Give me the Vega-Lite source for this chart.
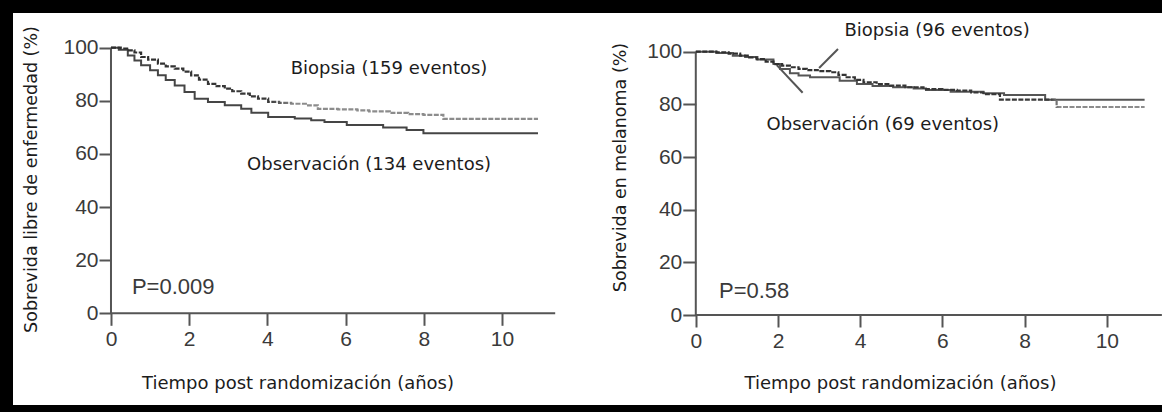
{
  "$schema": "https://vega.github.io/schema/vega-lite/v6.json",
  "background": "black",
  "padding": {"left": 13, "top": 13, "right": 0, "bottom": 7},
  "config": {
    "view": {"stroke": null, "fill": "white"},
    "concat": {"spacing": 0}
  },
  "datasets": {
    "izq_curvas": [
      {"grupo": "Biopsia", "tiempo": 0, "sobrevida": 100},
      {"grupo": "Biopsia", "tiempo": 0.25, "sobrevida": 99.7},
      {"grupo": "Biopsia", "tiempo": 0.45, "sobrevida": 99.0},
      {"grupo": "Biopsia", "tiempo": 0.6, "sobrevida": 98.2},
      {"grupo": "Biopsia", "tiempo": 0.77, "sobrevida": 96.5},
      {"grupo": "Biopsia", "tiempo": 0.95, "sobrevida": 95.5},
      {"grupo": "Biopsia", "tiempo": 1.2, "sobrevida": 94.0},
      {"grupo": "Biopsia", "tiempo": 1.4, "sobrevida": 93.0},
      {"grupo": "Biopsia", "tiempo": 1.63, "sobrevida": 92.1},
      {"grupo": "Biopsia", "tiempo": 1.85, "sobrevida": 91.0},
      {"grupo": "Biopsia", "tiempo": 2.05, "sobrevida": 89.6},
      {"grupo": "Biopsia", "tiempo": 2.25, "sobrevida": 88.0},
      {"grupo": "Biopsia", "tiempo": 2.48, "sobrevida": 86.4},
      {"grupo": "Biopsia", "tiempo": 2.7, "sobrevida": 85.5},
      {"grupo": "Biopsia", "tiempo": 2.91, "sobrevida": 84.6},
      {"grupo": "Biopsia", "tiempo": 3.1, "sobrevida": 83.6},
      {"grupo": "Biopsia", "tiempo": 3.33, "sobrevida": 82.7},
      {"grupo": "Biopsia", "tiempo": 3.55, "sobrevida": 81.7},
      {"grupo": "Biopsia", "tiempo": 3.76, "sobrevida": 80.8},
      {"grupo": "Biopsia", "tiempo": 4.02, "sobrevida": 79.6},
      {"grupo": "Biopsia", "tiempo": 4.3, "sobrevida": 79.2},
      {"grupo": "Biopsia", "tiempo": 4.61, "sobrevida": 78.9},
      {"grupo": "Biopsia", "tiempo": 5.04, "sobrevida": 78.3},
      {"grupo": "Biopsia", "tiempo": 5.29, "sobrevida": 77.0},
      {"grupo": "Biopsia", "tiempo": 5.8, "sobrevida": 76.8},
      {"grupo": "Biopsia", "tiempo": 6.3, "sobrevida": 76.4},
      {"grupo": "Biopsia", "tiempo": 6.6, "sobrevida": 76.0},
      {"grupo": "Biopsia", "tiempo": 7.13, "sobrevida": 75.5},
      {"grupo": "Biopsia", "tiempo": 7.6, "sobrevida": 75.0},
      {"grupo": "Biopsia", "tiempo": 7.99, "sobrevida": 74.7},
      {"grupo": "Biopsia", "tiempo": 8.5, "sobrevida": 73.2},
      {"grupo": "Biopsia", "tiempo": 10.92, "sobrevida": 73.2},
      {"grupo": "Observación", "tiempo": 0, "sobrevida": 100},
      {"grupo": "Observación", "tiempo": 0.2, "sobrevida": 99.2},
      {"grupo": "Observación", "tiempo": 0.43, "sobrevida": 97.1},
      {"grupo": "Observación", "tiempo": 0.6, "sobrevida": 95.2},
      {"grupo": "Observación", "tiempo": 0.77, "sobrevida": 93.4},
      {"grupo": "Observación", "tiempo": 1.0, "sobrevida": 91.5},
      {"grupo": "Observación", "tiempo": 1.2, "sobrevida": 89.6},
      {"grupo": "Observación", "tiempo": 1.4, "sobrevida": 87.8},
      {"grupo": "Observación", "tiempo": 1.63, "sobrevida": 85.8},
      {"grupo": "Observación", "tiempo": 1.88, "sobrevida": 83.3},
      {"grupo": "Observación", "tiempo": 2.14, "sobrevida": 80.8},
      {"grupo": "Observación", "tiempo": 2.48, "sobrevida": 79.6},
      {"grupo": "Observación", "tiempo": 2.91, "sobrevida": 78.3},
      {"grupo": "Observación", "tiempo": 3.33, "sobrevida": 77.0},
      {"grupo": "Observación", "tiempo": 3.59, "sobrevida": 75.5},
      {"grupo": "Observación", "tiempo": 4.02, "sobrevida": 73.9},
      {"grupo": "Observación", "tiempo": 4.7, "sobrevida": 73.3},
      {"grupo": "Observación", "tiempo": 5.12, "sobrevida": 72.7},
      {"grupo": "Observación", "tiempo": 5.46, "sobrevida": 72.0},
      {"grupo": "Observación", "tiempo": 6.03, "sobrevida": 70.9},
      {"grupo": "Observación", "tiempo": 6.96, "sobrevida": 70.0},
      {"grupo": "Observación", "tiempo": 7.56, "sobrevida": 69.0},
      {"grupo": "Observación", "tiempo": 7.99, "sobrevida": 67.8},
      {"grupo": "Observación", "tiempo": 10.92, "sobrevida": 67.8}
    ],
    "der_curvas": [
      {"grupo": "Biopsia", "tiempo": 0, "sobrevida": 100},
      {"grupo": "Biopsia", "tiempo": 0.5, "sobrevida": 99.8},
      {"grupo": "Biopsia", "tiempo": 0.8, "sobrevida": 99.3},
      {"grupo": "Biopsia", "tiempo": 1.08, "sobrevida": 98.5},
      {"grupo": "Biopsia", "tiempo": 1.3, "sobrevida": 97.8},
      {"grupo": "Biopsia", "tiempo": 1.48, "sobrevida": 97.2},
      {"grupo": "Biopsia", "tiempo": 1.7, "sobrevida": 96.2},
      {"grupo": "Biopsia", "tiempo": 1.89, "sobrevida": 95.3},
      {"grupo": "Biopsia", "tiempo": 2.1, "sobrevida": 94.7},
      {"grupo": "Biopsia", "tiempo": 2.29, "sobrevida": 94.1},
      {"grupo": "Biopsia", "tiempo": 2.5, "sobrevida": 93.5},
      {"grupo": "Biopsia", "tiempo": 2.7, "sobrevida": 93.0},
      {"grupo": "Biopsia", "tiempo": 3.0, "sobrevida": 92.6},
      {"grupo": "Biopsia", "tiempo": 3.27, "sobrevida": 92.2},
      {"grupo": "Biopsia", "tiempo": 3.47, "sobrevida": 91.2},
      {"grupo": "Biopsia", "tiempo": 3.67, "sobrevida": 90.3},
      {"grupo": "Biopsia", "tiempo": 3.87, "sobrevida": 89.3},
      {"grupo": "Biopsia", "tiempo": 4.08, "sobrevida": 88.4},
      {"grupo": "Biopsia", "tiempo": 4.4, "sobrevida": 87.7},
      {"grupo": "Biopsia", "tiempo": 4.73, "sobrevida": 87.1},
      {"grupo": "Biopsia", "tiempo": 5.1, "sobrevida": 86.5},
      {"grupo": "Biopsia", "tiempo": 5.54, "sobrevida": 85.8},
      {"grupo": "Biopsia", "tiempo": 6.0, "sobrevida": 85.5},
      {"grupo": "Biopsia", "tiempo": 6.35, "sobrevida": 85.2},
      {"grupo": "Biopsia", "tiempo": 6.7, "sobrevida": 84.5},
      {"grupo": "Biopsia", "tiempo": 7.0, "sobrevida": 83.9},
      {"grupo": "Biopsia", "tiempo": 7.4, "sobrevida": 81.8},
      {"grupo": "Biopsia", "tiempo": 8.78, "sobrevida": 79.0},
      {"grupo": "Biopsia", "tiempo": 10.92, "sobrevida": 79.0},
      {"grupo": "Observación", "tiempo": 0, "sobrevida": 100},
      {"grupo": "Observación", "tiempo": 0.5, "sobrevida": 99.5},
      {"grupo": "Observación", "tiempo": 0.9, "sobrevida": 98.5},
      {"grupo": "Observación", "tiempo": 1.2, "sobrevida": 98.0},
      {"grupo": "Observación", "tiempo": 1.5, "sobrevida": 97.0},
      {"grupo": "Observación", "tiempo": 1.89, "sobrevida": 95.3},
      {"grupo": "Observación", "tiempo": 2.05, "sobrevida": 93.4},
      {"grupo": "Observación", "tiempo": 2.29, "sobrevida": 91.8},
      {"grupo": "Observación", "tiempo": 2.5, "sobrevida": 91.0},
      {"grupo": "Observación", "tiempo": 2.78, "sobrevida": 90.3},
      {"grupo": "Observación", "tiempo": 3.27, "sobrevida": 90.3},
      {"grupo": "Observación", "tiempo": 3.5, "sobrevida": 89.0},
      {"grupo": "Observación", "tiempo": 3.92, "sobrevida": 87.7},
      {"grupo": "Observación", "tiempo": 4.3, "sobrevida": 87.0},
      {"grupo": "Observación", "tiempo": 4.8, "sobrevida": 86.5},
      {"grupo": "Observación", "tiempo": 5.3, "sobrevida": 86.0},
      {"grupo": "Observación", "tiempo": 5.6, "sobrevida": 85.5},
      {"grupo": "Observación", "tiempo": 6.2, "sobrevida": 84.8},
      {"grupo": "Observación", "tiempo": 7.0, "sobrevida": 84.2},
      {"grupo": "Observación", "tiempo": 7.5, "sobrevida": 83.6},
      {"grupo": "Observación", "tiempo": 8.5, "sobrevida": 81.8},
      {"grupo": "Observación", "tiempo": 10.92, "sobrevida": 81.8}
    ],
    "izq_lineas": [
      {"tiempo": 0, "sobrevida": 0, "tiempo2": 11.36, "sobrevida2": 0},
      {"tiempo": 0, "sobrevida": 0, "tiempo2": 0, "sobrevida2": 100}
    ],
    "der_lineas": [
      {"tiempo": 0, "sobrevida": 0, "tiempo2": 11.34, "sobrevida2": 0},
      {"tiempo": 0, "sobrevida": 0, "tiempo2": 0, "sobrevida2": 100},
      {"tiempo": 3.46, "sobrevida": 101.0, "tiempo2": 3.0, "sobrevida2": 93.8},
      {"tiempo": 1.97, "sobrevida": 94.9, "tiempo2": 2.6, "sobrevida2": 84.4}
    ],
    "izq_textos": [
      {"tiempo": 7.11, "sobrevida": 92.0, "texto": "Biopsia (159 eventos)"},
      {"tiempo": 6.6, "sobrevida": 55.8, "texto": "Observación (134 eventos)"}
    ],
    "der_textos": [
      {"tiempo": 5.87, "sobrevida": 107.9, "texto": "Biopsia (96 eventos)"},
      {"tiempo": 4.55, "sobrevida": 72.2, "texto": "Observación (69 eventos)"}
    ],
    "izq_p": [{"tiempo": 1.59, "sobrevida": 9.9, "texto": "P=0.009"}],
    "der_p": [{"tiempo": 1.42, "sobrevida": 9.1, "texto": "P=0.58"}]
  },
  "hconcat": [
    {
      "width": 568,
      "height": 392,
      "encoding": {
        "x": {
          "field": "tiempo", "type": "quantitative",
          "scale": {"domain": [-2.506, 12.02], "nice": false, "zero": false},
          "axis": {
            "values": [0, 2, 4, 6, 8, 10], "offset": -91.7, "domain": false, "grid": false,
            "tickSize": 12, "tickWidth": 2, "tickColor": "#555555",
            "labelFont": "Liberation Sans", "labelFontSize": 21, "labelColor": "#3a3a3a", "labelPadding": 3,
            "title": "Tiempo post randomización (años)",
            "titleFont": "DejaVu Sans", "titleFontSize": 18, "titleFontWeight": "normal", "titleColor": "#1c1c1c",
            "titleX": 284.5, "titleY": 70, "titleBaseline": "middle", "titleAlign": "center"
          }
        },
        "y": {
          "field": "sobrevida", "type": "quantitative",
          "scale": {"domain": [-34.53, 113.07], "nice": false, "zero": false},
          "axis": {
            "values": [0, 20, 40, 60, 80, 100], "offset": -98, "domain": false, "grid": false,
            "tickSize": 12, "tickWidth": 2, "tickColor": "#555555",
            "labelFont": "Liberation Sans", "labelFontSize": 21, "labelColor": "#3a3a3a", "labelPadding": 1,
            "title": "Sobrevida libre de enfermedad (%)",
            "titleFont": "DejaVu Sans", "titleFontSize": 17.5, "titleFontWeight": "normal", "titleColor": "#1c1c1c",
            "titleX": -80, "titleY": 166, "titleBaseline": "middle", "titleAlign": "center", "titleAngle": -90
          }
        }
      },
      "layer": [
        {
          "data": {"name": "izq_lineas"},
          "mark": {"type": "rule", "color": "#555555", "strokeWidth": 2},
          "encoding": {"x2": {"field": "tiempo2"}, "y2": {"field": "sobrevida2"}}
        },
        {
          "data": {"name": "izq_curvas"},
          "transform": [{"filter": "datum.grupo === 'Observación'"}],
          "mark": {"type": "line", "interpolate": "step-after", "color": "#454545", "strokeWidth": 2},
          "encoding": {}
        },
        {
          "data": {"name": "izq_curvas"},
          "transform": [{"filter": "datum.grupo === 'Biopsia'"}],
          "mark": {
            "type": "line", "interpolate": "step-after", "strokeWidth": 2.2, "strokeDash": [5, 1.5],
            "color": {"gradient": "linear", "x1": 0, "x2": 1, "y1": 0, "y2": 0,
              "stops": [{"offset": 0, "color": "#2e2e2e"}, {"offset": 0.37, "color": "#3a3a3a"}, {"offset": 0.43, "color": "#8c8c8c"}, {"offset": 1, "color": "#8c8c8c"}]}
          },
          "encoding": {}
        },
        {
          "data": {"name": "izq_textos"},
          "mark": {"type": "text", "font": "DejaVu Sans", "fontSize": 18, "color": "#1c1c1c", "align": "center", "baseline": "middle"},
          "encoding": {"text": {"field": "texto"}}
        },
        {
          "data": {"name": "izq_p"},
          "mark": {"type": "text", "font": "Liberation Sans", "fontSize": 22, "color": "#3a3a3a", "align": "center", "baseline": "middle"},
          "encoding": {"text": {"field": "texto"}}
        }
      ]
    },
    {
      "width": 581,
      "height": 392,
      "encoding": {
        "x": {
          "field": "tiempo", "type": "quantitative",
          "scale": {"domain": [-2.793, 11.343], "nice": false, "zero": false},
          "axis": {
            "values": [0, 2, 4, 6, 8, 10], "offset": -90, "domain": false, "grid": false,
            "tickSize": 12, "tickWidth": 2, "tickColor": "#555555",
            "labelFont": "Liberation Sans", "labelFontSize": 21, "labelColor": "#3a3a3a", "labelPadding": 3,
            "title": "Tiempo post randomización (años)",
            "titleFont": "DejaVu Sans", "titleFontSize": 18, "titleFontWeight": "normal", "titleColor": "#1c1c1c",
            "titleX": 319, "titleY": 68, "titleBaseline": "middle", "titleAlign": "center"
          }
        },
        "y": {
          "field": "sobrevida", "type": "quantitative",
          "scale": {"domain": [-34.18, 114.7], "nice": false, "zero": false},
          "axis": {
            "values": [0, 20, 40, 60, 80, 100], "offset": -114.8, "domain": false, "grid": false,
            "tickSize": 13, "tickWidth": 2, "tickColor": "#555555",
            "labelFont": "Liberation Sans", "labelFontSize": 21, "labelColor": "#3a3a3a", "labelPadding": 1,
            "title": "Sobrevida en melanoma (%)",
            "titleFont": "DejaVu Sans", "titleFontSize": 17.5, "titleFontWeight": "normal", "titleColor": "#1c1c1c",
            "titleX": -75, "titleY": 154, "titleBaseline": "middle", "titleAlign": "center", "titleAngle": -90
          }
        }
      },
      "layer": [
        {
          "data": {"name": "der_lineas"},
          "mark": {"type": "rule", "color": "#555555", "strokeWidth": 2},
          "encoding": {"x2": {"field": "tiempo2"}, "y2": {"field": "sobrevida2"}}
        },
        {
          "data": {"name": "der_curvas"},
          "transform": [{"filter": "datum.grupo === 'Observación'"}],
          "mark": {"type": "line", "interpolate": "step-after", "color": "#555555", "strokeWidth": 2},
          "encoding": {}
        },
        {
          "data": {"name": "der_curvas"},
          "transform": [{"filter": "datum.grupo === 'Biopsia'"}],
          "mark": {
            "type": "line", "interpolate": "step-after", "strokeWidth": 2.2, "strokeDash": [5, 1.5],
            "color": {"gradient": "linear", "x1": 0, "x2": 1, "y1": 0, "y2": 0,
              "stops": [{"offset": 0, "color": "#2e2e2e"}, {"offset": 0.79, "color": "#3a3a3a"}, {"offset": 0.81, "color": "#8c8c8c"}, {"offset": 1, "color": "#8c8c8c"}]}
          },
          "encoding": {}
        },
        {
          "data": {"name": "der_textos"},
          "mark": {"type": "text", "font": "DejaVu Sans", "fontSize": 18, "color": "#1c1c1c", "align": "center", "baseline": "middle"},
          "encoding": {"text": {"field": "texto"}}
        },
        {
          "data": {"name": "der_p"},
          "mark": {"type": "text", "font": "Liberation Sans", "fontSize": 22, "color": "#3a3a3a", "align": "center", "baseline": "middle"},
          "encoding": {"text": {"field": "texto"}}
        }
      ]
    }
  ]
}
